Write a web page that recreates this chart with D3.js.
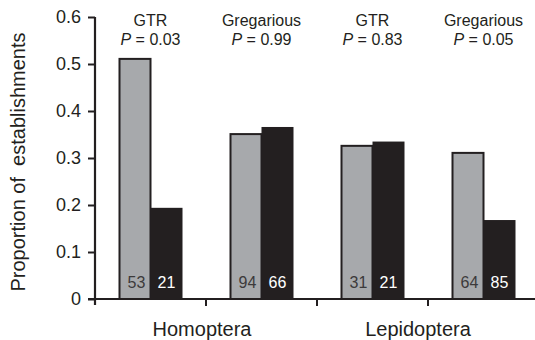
<!DOCTYPE html>
<html>
<head>
<meta charset="utf-8">
<script src="https://cdn.jsdelivr.net/npm/d3@7/dist/d3.min.js"></script>
<style>
  html, body { margin: 0; padding: 0; background: #fff; }
  svg { display: block; font-family: "Liberation Sans", Arial, sans-serif; }
</style>
</head>
<body>
<svg id="chart" width="535" height="340"></svg>
<script>
// Establishment proportions by insect order and trait
const groups = ["Homoptera GTR", "Homoptera Gregarious", "Lepidoptera GTR", "Lepidoptera Gregarious"];
const traitLabels = ["GTR", "Gregarious", "GTR", "Gregarious"];
const pValues = ["0.03", "0.99", "0.83", "0.05"];
const orders = ["Homoptera", "Lepidoptera"];
const series = ["without", "with"];
const grayValues = [0.513, 0.353, 0.328, 0.313];
const blackValues = [0.194, 0.366, 0.335, 0.168];
const grayCounts = [53, 94, 31, 64];
const blackCounts = [21, 66, 21, 85];
const yTicks = [0, 0.1, 0.2, 0.3, 0.4, 0.5, 0.6];
const yTickLabels = ["0", "0.1", "0.2", "0.3", "0.4", "0.5", "0.6"];

const ink = "#231f20";
const grayFill = "#a7a9ac";

const svg = d3.select("#chart");

const x = d3.scaleBand().domain(groups).range([95, 539]).padding(0);
const y = d3.scaleLinear().domain([0, 0.6]).range([299, 17]);
const barW = 32;
const xs = d3.scaleBand().domain(series)
  .range([x.bandwidth() / 2 - barW, x.bandwidth() / 2 + barW]);
const color = d3.scaleOrdinal().domain(series).range([grayFill, ink]);

const rows = groups.map((g, i) => ({
  group: g,
  values: [
    { key: "without", v: grayValues[i], n: grayCounts[i] },
    { key: "with", v: blackValues[i], n: blackCounts[i] }
  ]
}));

// bars
const gBars = svg.append("g");
const gg = gBars.selectAll("g").data(rows).join("g")
  .attr("transform", d => `translate(${x(d.group)},0)`);

gg.selectAll("rect").data(d => d.values).join("rect")
  .attr("x", d => xs(d.key) + (d.key === "without" ? 1 : 0))
  .attr("width", d => xs.bandwidth() - (d.key === "without" ? 1 : 0))
  .attr("y", d => y(d.v) + (d.key === "without" ? 1 : 0))
  .attr("height", d => y(0) - y(d.v) - (d.key === "without" ? 1 : 0))
  .attr("fill", d => color(d.key))
  .attr("stroke", ink)
  .attr("stroke-width", d => d.key === "without" ? 2 : 0);

// sample sizes inside bars
gg.selectAll("text.n").data(d => d.values).join("text")
  .attr("class", "n")
  .attr("x", d => xs(d.key) + xs.bandwidth() / 2 + (d.key === "without" ? 2 : 0))
  .attr("y", 288)
  .attr("text-anchor", "middle")
  .attr("font-size", 16)
  .attr("fill", d => d.key === "without" ? "#3c3a3b" : "#ffffff")
  .text(d => d.n);

// trait headers and P values
const gHead = svg.append("g").attr("fill", ink).attr("text-anchor", "middle").attr("font-size", 16);
gHead.selectAll("text.trait").data(groups).join("text")
  .attr("class", "trait")
  .attr("x", d => x(d) + x.bandwidth() / 2)
  .attr("y", 26)
  .text((d, i) => traitLabels[i]);
const pText = gHead.selectAll("text.p").data(groups).join("text")
  .attr("class", "p")
  .attr("x", d => x(d) + x.bandwidth() / 2)
  .attr("y", 45);
pText.append("tspan").attr("font-style", "italic").text("P");
pText.append("tspan").text((d, i) => " = " + pValues[i]);

// y axis
const yAxis = d3.axisLeft(y).tickValues(yTicks)
  .tickFormat((d, i) => yTickLabels[i])
  .tickSize(7).tickSizeOuter(0).tickPadding(7);
const gy = svg.append("g").attr("transform", "translate(95,0)").call(yAxis);
gy.select(".domain").attr("stroke", ink).attr("stroke-width", 2.2)
  .attr("d", `M0,${y(0.6)}V${y(0) + 6}`);
gy.selectAll(".tick line").attr("stroke", ink).attr("stroke-width", 2);
gy.selectAll(".tick text").attr("fill", ink).attr("font-size", 18)
  .attr("font-family", "Liberation Sans, Arial, sans-serif");

// x axis with ticks between groups
const gx = svg.append("g").attr("transform", `translate(0,${y(0)})`);
gx.append("path").attr("d", `M88,0H535`).attr("stroke", ink).attr("stroke-width", 2.2).attr("fill", "none");
gx.selectAll("line.sep").data(groups.slice(1)).join("line")
  .attr("class", "sep")
  .attr("x1", d => x(d)).attr("x2", d => x(d))
  .attr("y1", 0).attr("y2", 7)
  .attr("stroke", ink).attr("stroke-width", 2);

// order labels centered under each pair of groups
svg.append("g").selectAll("text").data(orders).join("text")
  .attr("x", (d, i) => x(groups[i * 2 + 1]) - (i === 0 ? 4 : 10))
  .attr("y", 336)
  .attr("text-anchor", "middle")
  .attr("font-size", 20)
  .attr("fill", ink)
  .text(d => d);

// y axis title
svg.append("text")
  .attr("transform", `translate(25,162) rotate(-90)`)
  .attr("text-anchor", "middle")
  .attr("font-size", 20)
  .attr("fill", ink)
  .style("white-space", "pre")
  .text("Proportion of  establishments");
</script>
</body>
</html>
